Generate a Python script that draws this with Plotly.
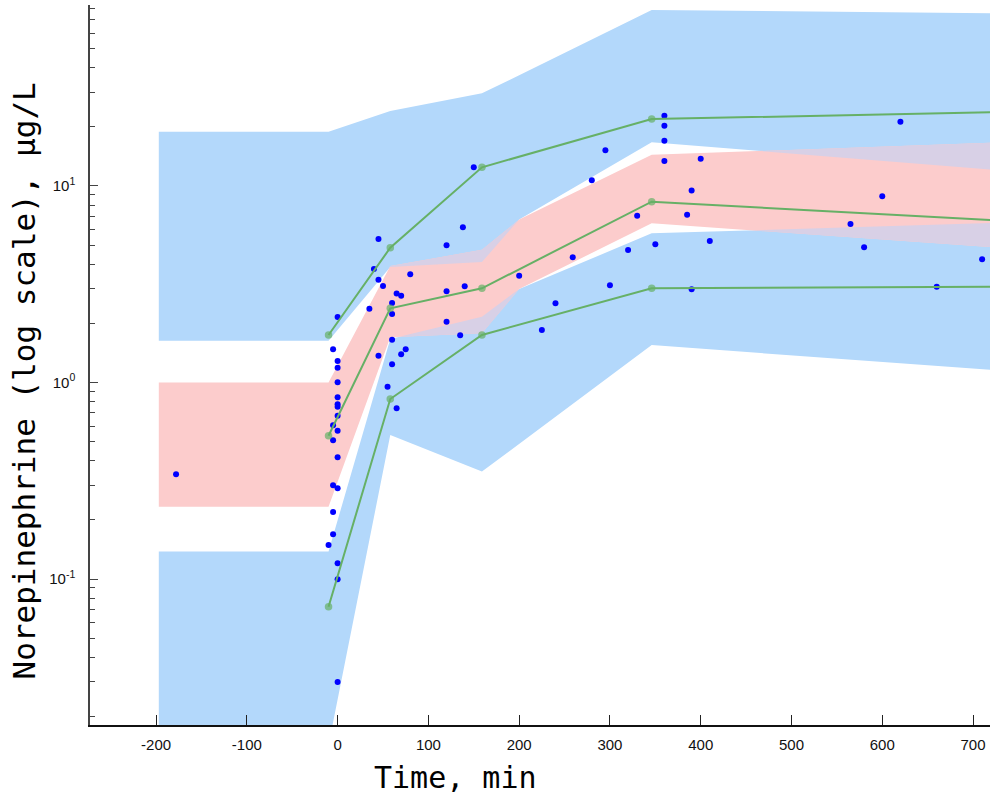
import numpy as np
import plotly.graph_objects as go

# ---------------- data ----------------
# prediction-interval bands (vertices along time)
band_x = [-197, -10, 58, 159, 200, 346, 720]
p95_ci_hi = [18.9, 18.9, 24.1, 29.6, 36.6, 78.6, 75.7]
p95_ci_lo = [1.63, 1.63, 3.87, 4.10, 6.75, 16.7, 12.1]
p50_ci_hi = [1.0, 1.0, 3.92, 4.73, 6.75, 14.4, 16.6]
p50_ci_lo = [0.233, 0.233, 1.70, 1.78, 2.99, 6.46, 4.89]
p05_ci_hi = [0.138, 0.138, 1.665, 2.16, 2.99, 5.74, 6.48]
p05_ci_lo = [0.0143, 0.0143, 0.54, 0.352, 0.486, 1.55, 1.16]

# observed percentiles
obs_x = [-10, 58, 159, 346, 720]
obs_p95 = [1.745, 4.85, 12.45, 21.9, 23.7]
obs_p50 = [0.536, 2.385, 3.015, 8.32, 6.71]
obs_p05 = [0.0723, 0.824, 1.745, 3.016, 3.07]

# observations
obs_time = [-178, -10, -5, -5, -5, -5, -5, -5, 0, 0, 0, 0, 0, 0, 0, 0, 0, 0, 0, 0, 0, 0,
            35, 40, 45, 45, 45, 50, 55, 60, 60, 60, 60, 65, 65, 70, 70, 75, 80,
            120, 120, 120, 135, 138, 140, 150, 200, 225, 240, 259, 280, 295, 300, 320,
            330, 350, 360, 360, 360, 360, 385, 390, 390, 400, 410, 565, 580, 600, 620, 660, 710]
obs_conc = [0.341, 0.149, 1.476, 0.606, 0.5085, 0.2998, 0.2193, 0.1688, 2.154, 1.287, 1.189,
            1.002, 0.841, 0.774, 0.753, 0.678, 0.568, 0.416, 0.2894, 0.1202, 0.0996, 0.0299,
            2.374, 3.781, 5.374, 3.336, 1.369, 3.098, 0.952, 2.538, 2.232, 1.651, 1.238, 2.838,
            0.739, 2.765, 1.392, 1.476, 3.553,
            4.991, 2.912, 2.039, 1.739, 6.163, 3.091, 12.45, 3.496, 1.850, 2.529, 4.337, 10.69,
            15.19, 3.127, 4.725, 7.06, 5.05, 22.79, 20.27, 17.0, 13.40, 7.14, 9.49, 2.981,
            13.75, 5.25, 6.41, 4.876, 8.86, 21.25, 3.073, 4.236]

x_ticks = [-200, -100, 0, 100, 200, 300, 400, 500, 600, 700]
x_ticktext = ["-200", "-100", "0", "100", "200", "300", "400", "500", "600", "700"]
y_ticks = [0.1, 1, 10]
y_ticktext = ["10<sup>-1</sup>", "10<sup>0</sup>", "10<sup>1</sup>"]
y_minor = [m * 10.0 ** e for e in (-2, -1, 0, 1) for m in range(2, 10)]

BLUE = "#b3d8fb"
PINK = "#fccccc"
LAV = "#d8d0e6"
GREEN = "#66b066"


def overlap(xs, a_lo, a_hi, b_lo, b_hi):
    """Overlap region of two bands (in log space, linear between vertices)."""
    A_lo, A_hi, B_lo, B_hi = [np.log10(np.array(v, float)) for v in (a_lo, a_hi, b_lo, b_hi)]
    px, top, bot = [], [], []
    n = len(xs)
    for i in range(n - 1):
        ts = [0.0]
        for f, g in ((A_hi, B_hi), (A_lo, B_lo), (A_hi, B_lo), (B_hi, A_lo)):
            d0, d1 = f[i] - g[i], f[i + 1] - g[i + 1]
            if d0 * d1 < 0:
                ts.append(d0 / (d0 - d1))
        if i == n - 2:
            ts.append(1.0)
        for t in sorted(ts):
            x = xs[i] + t * (xs[i + 1] - xs[i])
            v = [arr[i] + t * (arr[i + 1] - arr[i]) for arr in (A_lo, A_hi, B_lo, B_hi)]
            u = min(v[1], v[3])
            l = max(v[0], v[2])
            px.append(x)
            bot.append(l)
            top.append(max(u, l))
    return px, list(10 ** np.array(top)), list(10 ** np.array(bot))


def band(xs, lo, hi, color):
    return go.Scatter(x=list(xs) + list(xs)[::-1], y=list(hi) + list(lo)[::-1],
                      fill="toself", fillcolor=color, mode="lines",
                      line=dict(width=0, color=color), hoverinfo="skip", showlegend=False)


fig = go.Figure()
fig.add_trace(band(band_x, p95_ci_lo, p95_ci_hi, BLUE))
fig.add_trace(band(band_x, p05_ci_lo, p05_ci_hi, BLUE))
fig.add_trace(band(band_x, p50_ci_lo, p50_ci_hi, PINK))
for lo, hi in ((p95_ci_lo, p95_ci_hi), (p05_ci_lo, p05_ci_hi)):
    ox, ot, ob = overlap(band_x, p50_ci_lo, p50_ci_hi, lo, hi)
    fig.add_trace(band(ox, ob, ot, LAV))

fig.add_trace(go.Scatter(x=obs_time, y=obs_conc, mode="markers",
                         marker=dict(color="#0000ff", size=6, line=dict(width=0)),
                         showlegend=False))

for series in (obs_p95, obs_p50, obs_p05):
    sizes = [7.5] * (len(obs_x) - 1) + [0]
    fig.add_trace(go.Scatter(x=obs_x, y=series, mode="lines+markers",
                             line=dict(color=GREEN, width=2),
                             marker=dict(color=GREEN, size=sizes, line=dict(width=0)),
                             showlegend=False))

tickfont = dict(family="Liberation Sans, Arial, sans-serif", size=15, color="#111")
fig.update_xaxes(range=[-272.8, 718.7], tickmode="array", tickvals=x_ticks, ticktext=x_ticktext,
                 ticks="inside", ticklen=10, tickcolor="#222", tickwidth=1,
                 showline=True, linecolor="#111", linewidth=1.5, automargin=False,
                 showgrid=False, zeroline=False, tickfont=tickfont, ticklabelstandoff=5)
fig.update_yaxes(type="log", range=[-1.743, 1.921], tickmode="array",
                 tickvals=y_ticks, ticktext=y_ticktext,
                 ticks="inside", ticklen=8, tickcolor="#444", tickwidth=1,
                 minor=dict(tickvals=y_minor, ticks="inside", ticklen=5,
                            tickcolor="#444", tickwidth=1, showgrid=False),
                 showline=True, linecolor="#444", linewidth=1.5, automargin=False,
                 showgrid=False, zeroline=False,
                 tickfont=dict(family="Liberation Sans, Arial, sans-serif", size=15, color="#111"),
                 ticklabelstandoff=10)

mono = "DejaVu Sans Mono, monospace"
fig.update_layout(
    width=990, height=794,
    margin=dict(l=90, r=0, t=5, b=69, autoexpand=False),
    paper_bgcolor="white", plot_bgcolor="white",
    showlegend=False,
    annotations=[
        dict(text="Time, min", xref="paper", yref="paper",
             x=(455 - 90) / 900, y=-(777 - 725) / 720,
             xanchor="center", yanchor="middle", showarrow=False,
             font=dict(family=mono, size=30, color="#000")),
        dict(text="Norepinephrine (log scale), µg/L", xref="paper", yref="paper",
             x=0, xshift=23 - 90, y=(725 - 381.5) / 720, textangle=-90,
             xanchor="center", yanchor="middle", showarrow=False,
             font=dict(family=mono, size=31, color="#000")),
    ],
)

fig.write_html("out.html", config={"displayModeBar": False},
               post_script="document.body.style.margin='0';document.body.style.overflow='hidden';")
